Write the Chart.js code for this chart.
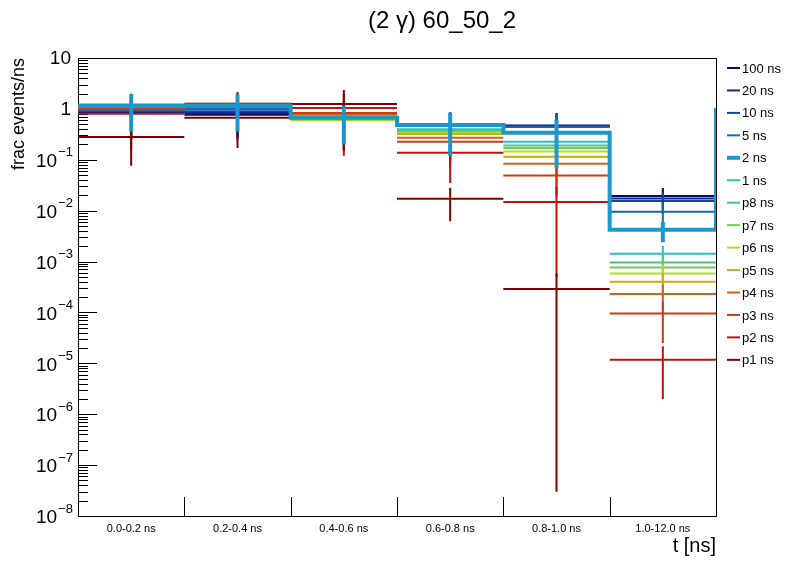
<!DOCTYPE html>
<html>
<head>
<meta charset="utf-8">
<script src="https://cdn.jsdelivr.net/npm/chart.js@4.4.0/dist/chart.umd.min.js"></script>
<style>
html, body { margin: 0; padding: 0; background: #fff; }
</style>
</head>
<body>
<canvas id="myChart" width="796" height="572"></canvas>
<script>
const titleText = '(2 \u03b3) 60_50_2';
const binLabels = ['0.0-0.2 ns', '0.2-0.4 ns', '0.4-0.6 ns', '0.6-0.8 ns', '0.8-1.0 ns', '1.0-12.0 ns'];
const yDecades = [1e-8, 1e-7, 1e-6, 1e-5, 1e-4, 1e-3, 1e-2, 1e-1, 1, 10];

const seriesNames = ['100 ns', '20 ns', '10 ns', '5 ns', '2 ns', '1 ns', 'p8 ns', 'p7 ns', 'p6 ns', 'p5 ns', 'p4 ns', 'p3 ns', 'p2 ns', 'p1 ns'];
const seriesColors = ['#0a0a6a', '#0c2a86', '#0d4a9e', '#1767b5', '#1c97cc', '#26c0c8', '#40c88c', '#70cc4c',
                      '#b2dc22', '#c9ae10', '#cf6412', '#cf3a0e', '#c01212', '#800000'];

// frac events/ns per bin, and their errors
const v100 = [0.86, 0.77, 0.70, 0.46, 0.47, 0.0195];
const e100 = [0.60, 0.52, 0.45, 0.35, 0.36, 0.0085];
const v20 = [0.88, 0.83, 0.70, 0.47, 0.46, 0.0173];
const e20 = [0.62, 0.56, 0.45, 0.36, 0.35, 0.0075];
const v10 = [0.91, 0.90, 0.69, 0.48, 0.45, 0.0155];
const e10 = [0.65, 0.60, 0.45, 0.37, 0.34, 0.0070];
const v5 = [0.95, 0.99, 0.68, 0.49, 0.44, 0.0095];
const e5 = [0.68, 0.65, 0.45, 0.38, 0.33, 0.0045];
const v2 = [1.16, 1.14, 0.67, 0.48, 0.34, 0.0042];
const e2 = [0.80, 0.78, 0.47, 0.36, 0.27, 0.0018];
const v2Edge = 1.04;
const v1 = [1.12, 1.15, 0.65, 0.40, 0.227, 0.00143];
const e1 = [0.80, 0.75, 0.44, 0.30, 0.18, 0.0006];
const vp8 = [1.12, 1.16, 0.64, 0.37, 0.19, 0.00096];
const ep8 = [0.82, 0.76, 0.42, 0.28, 0.15, 0.00045];
const vp7 = [1.13, 1.17, 0.60, 0.35, 0.17, 0.00076];
const ep7 = [0.89, 0.78, 0.38, 0.26, 0.13, 0.00036];
const vp6 = [1.12, 1.18, 0.61, 0.34, 0.145, 0.00058];
const ep6 = [0.82, 0.80, 0.39, 0.25, 0.11, 0.00028];
const vp5 = [1.10, 1.20, 0.63, 0.32, 0.115, 0.00040];
const ep5 = [0.80, 0.82, 0.41, 0.23, 0.09, 0.00020];
const vp4 = [1.03, 1.27, 0.79, 0.27, 0.084, 0.00023];
const ep4 = [0.78, 0.85, 0.60, 0.19, 0.062, 0.00012];
const vp3 = [1.00, 1.25, 0.83, 0.227, 0.049, 0.000095];
const ep3 = [0.75, 0.90, 0.68, 0.16, 0.030, 0.00007];
const vp2 = [0.80, 1.20, 1.04, 0.138, 0.0148, 0.0000118];
const ep2 = [0.65, 0.85, 0.92, 0.103, 0.0143, 0.0000098];
const vp1 = [0.28, 0.67, 1.25, 0.0172, 0.00029, null];
const ep1 = [0.204, 0.50, 1.10, 0.011, 0.00028997, null];

const seriesValues = [v100, v20, v10, v5, v2, v1, vp8, vp7, vp6, vp5, vp4, vp3, vp2, vp1];
const seriesErrors = [e100, e20, e10, e5, e2, e1, ep8, ep7, ep6, ep5, ep4, ep3, ep2, ep1];

const yMin = 1e-8;
const fontFamily = "'Liberation Sans', Arial, sans-serif";

// horizontal bar over each bin + vertical error bar at bin centre
function crossPoints(vals, errs) {
    const pts = [];
    vals.forEach((v, i) => {
        if (v === null) return;
        pts.push({x: i, y: v}, {x: i + 1, y: v}, {x: i + 1, y: null});
        pts.push({x: i + 0.5, y: Math.max(v - errs[i], yMin / 10)}, {x: i + 0.5, y: v + errs[i]}, {x: i + 0.5, y: null});
    });
    return pts;
}

// step outline of the histogram + error bars
function histPoints(vals, errs, edge) {
    const n = vals.length;
    const pts = vals.map((v, i) => ({x: i, y: v}));
    pts.push({x: n, y: vals[n - 1]}, {x: n, y: edge}, {x: n, y: null});
    vals.forEach((v, i) => {
        pts.push({x: i + 0.5, y: Math.max(v - errs[i], yMin / 10)}, {x: i + 0.5, y: v + errs[i]}, {x: i + 0.5, y: null});
    });
    return pts;
}

const datasets = seriesNames.map((name, i) => {
    const isHist = name === '2 ns';
    return {
        label: name,
        data: isHist ? histPoints(seriesValues[i], seriesErrors[i], v2Edge) : crossPoints(seriesValues[i], seriesErrors[i]),
        borderColor: seriesColors[i],
        backgroundColor: seriesColors[i],
        borderWidth: isHist ? 4 : 2,
        borderJoinStyle: 'miter',
        stepped: isHist ? 'before' : false,
        pointRadius: 0,
        fill: false,
        tension: 0,
        spanGaps: false,
        order: isHist ? 0 : seriesNames.length - i
    };
});

// frame, inward ticks and 10^n labels, ROOT style
const rootFrame = {
    id: 'rootFrame',
    beforeDatasetsDraw(chart) {
        const {ctx, chartArea: {left, top, right, bottom}, scales: {x, y}} = chart;
        ctx.save();
        ctx.strokeStyle = '#000';
        ctx.lineWidth = 1;
        ctx.strokeRect(left + 0.5, top + 0.5, right - left, bottom - top);
        ctx.beginPath();
        for (let p = -8; p <= 1; p++) {
            for (let k = 1; k <= 9; k++) {
                const v = k * Math.pow(10, p);
                if (v > 10) break;
                const py = Math.round(y.getPixelForValue(v)) + 0.5;
                const len = k === 1 ? 19 : 10;
                ctx.moveTo(left, py);
                ctx.lineTo(left + len, py);
            }
        }
        for (let i = 1; i < binLabels.length; i++) {
            const px = Math.round(x.getPixelForValue(i)) + 0.5;
            ctx.moveTo(px, bottom);
            ctx.lineTo(px, bottom - 19);
        }
        ctx.stroke();

        ctx.fillStyle = '#000';
        ctx.textAlign = 'right';
        ctx.textBaseline = 'middle';
        const labelRight = left - 5;
        yDecades.forEach(v => {
            const p = Math.round(Math.log10(v));
            const py = y.getPixelForValue(v);
            if (p === 0 || p === 1) {
                ctx.font = '19px ' + fontFamily;
                ctx.fillText(String(v), labelRight - 2, py + 1);
                return;
            }
            const expText = '\u2212' + Math.abs(p);
            ctx.font = '13px ' + fontFamily;
            const ew = ctx.measureText(expText).width;
            ctx.fillText(expText, labelRight, py - 7);
            ctx.font = '19px ' + fontFamily;
            ctx.fillText('10', labelRight - ew - 1, py + 2);
        });
        ctx.restore();
    }
};

// title and legend box
const rootText = {
    id: 'rootText',
    afterDraw(chart) {
        const {ctx} = chart;
        ctx.save();
        ctx.fillStyle = '#000';
        ctx.textBaseline = 'middle';
        ctx.textAlign = 'center';
        ctx.font = '24px ' + fontFamily;
        ctx.fillText(titleText, 442, 21);
        ctx.textAlign = 'left';
        ctx.font = '13px ' + fontFamily;
        seriesNames.forEach((name, i) => {
            const ly = 68 + i * 22.45;
            ctx.strokeStyle = seriesColors[i];
            ctx.lineWidth = name === '2 ns' ? 4 : 2;
            ctx.beginPath();
            ctx.moveTo(727, ly);
            ctx.lineTo(740, ly);
            ctx.stroke();
            ctx.fillText(name, 742, ly + 1);
        });
        ctx.restore();
    }
};

const ctx = document.getElementById('myChart').getContext('2d');

const chart = new Chart(ctx, {
    type: 'line',
    data: {datasets: datasets},
    options: {
        responsive: false,
        animation: false,
        devicePixelRatio: 1,
        layout: {padding: {top: 58, right: 80, bottom: 0, left: 0}},
        plugins: {
            legend: {display: false},
            tooltip: {enabled: false},
            title: {display: false}
        },
        scales: {
            x: {
                type: 'linear',
                min: 0,
                max: 6,
                afterFit: s => { s.height = 56; },
                afterBuildTicks: s => { s.ticks = binLabels.map((l, i) => ({value: i + 0.5})); },
                ticks: {
                    autoSkip: false,
                    maxRotation: 0,
                    padding: 6,
                    color: '#000',
                    font: {family: fontFamily, size: 11},
                    callback: (value, index) => binLabels[index]
                },
                grid: {display: false, drawTicks: false},
                border: {display: false},
                title: {
                    display: true,
                    text: 't [ns]',
                    align: 'end',
                    color: '#000',
                    font: {family: fontFamily, size: 20},
                    padding: {top: 0, bottom: 14}
                }
            },
            y: {
                type: 'logarithmic',
                min: 1e-8,
                max: 10,
                afterFit: s => { s.width = 78; },
                afterBuildTicks: s => { s.ticks = yDecades.map(v => ({value: v})); },
                ticks: {display: false},
                grid: {display: false, drawTicks: false},
                border: {display: false},
                title: {
                    display: true,
                    text: 'frac events/ns',
                    align: 'end',
                    color: '#000',
                    font: {family: fontFamily, size: 18},
                    padding: {top: 8, bottom: 0}
                }
            }
        }
    },
    plugins: [rootFrame, rootText]
});
</script>
</body>
</html>
